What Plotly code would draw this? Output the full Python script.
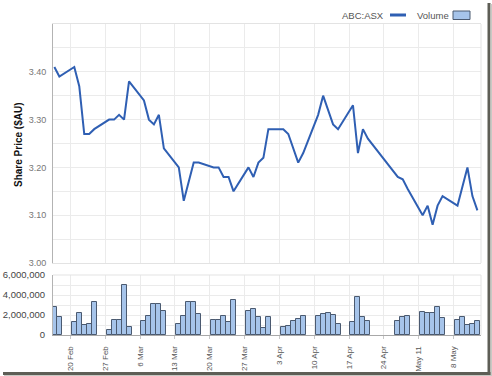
import plotly.graph_objects as go

# ---------------- data ----------------
dates = [
    "2006-02-16", "2006-02-17",
    "2006-02-20", "2006-02-21", "2006-02-22", "2006-02-23", "2006-02-24",
    "2006-02-27", "2006-02-28", "2006-03-01", "2006-03-02", "2006-03-03",
    "2006-03-06", "2006-03-07", "2006-03-08", "2006-03-09", "2006-03-10",
    "2006-03-13", "2006-03-14", "2006-03-15", "2006-03-16", "2006-03-17",
    "2006-03-20", "2006-03-21", "2006-03-22", "2006-03-23", "2006-03-24",
    "2006-03-27", "2006-03-28", "2006-03-29", "2006-03-30", "2006-03-31",
    "2006-04-03", "2006-04-04", "2006-04-05", "2006-04-06", "2006-04-07",
    "2006-04-10", "2006-04-11", "2006-04-12", "2006-04-13", "2006-04-14",
    "2006-04-17", "2006-04-18", "2006-04-19", "2006-04-20",
    "2006-04-26", "2006-04-27", "2006-04-28",
    "2006-05-01", "2006-05-02", "2006-05-03", "2006-05-04", "2006-05-05",
    "2006-05-08", "2006-05-09", "2006-05-10", "2006-05-11", "2006-05-12",
]

prices = [
    3.41, 3.39,
    3.41, 3.37, 3.27, 3.27, 3.28,
    3.30, 3.30, 3.31, 3.30, 3.38,
    3.34, 3.30, 3.29, 3.31, 3.24,
    3.20, 3.13, 3.17, 3.21, 3.21,
    3.20, 3.20, 3.18, 3.18, 3.15,
    3.20, 3.18, 3.21, 3.22, 3.28,
    3.28, 3.27, 3.24, 3.21, 3.23,
    3.31, 3.35, 3.32, 3.29, 3.28,
    3.33, 3.23, 3.28, 3.26,
    3.18, 3.175, 3.155,
    3.10, 3.12, 3.08, 3.12, 3.14,
    3.12, 3.16, 3.20, 3.14, 3.11,
]

volumes = [
    2830000, 1830000,
    1330000, 2230000, 1000000, 1130000, 3300000,
    530000, 1500000, 1500000, 5000000, 800000,
    1430000, 1930000, 3070000, 3070000, 2400000,
    1150000, 1950000, 3300000, 3300000, 2070000,
    1500000, 1500000, 1930000, 1270000, 3470000,
    2400000, 2600000, 1770000, 700000, 1770000,
    800000, 900000, 1430000, 1630000, 1870000,
    1870000, 2070000, 2230000, 1970000, 1070000,
    1270000, 3800000, 1830000, 1430000,
    1430000, 1770000, 1870000,
    2330000, 2230000, 2230000, 2830000, 1670000,
    1500000, 1770000, 970000, 1130000, 1430000,
]

week_ticks = ["2006-02-20", "2006-02-27", "2006-03-06", "2006-03-13", "2006-03-20",
              "2006-03-27", "2006-04-03", "2006-04-10", "2006-04-17", "2006-04-24",
              "2006-05-01", "2006-05-08"]
week_labels = ["20 Feb", "27 Feb", "6 Mar", "13 Mar", "20 Mar", "27 Mar",
               "3 Apr", "10 Apr", "17 Apr", "24 Apr", "May 11", "8 May"]

price_ticks = [3.00, 3.05, 3.10, 3.15, 3.20, 3.25, 3.30, 3.35, 3.40, 3.45, 3.50]
price_labels = ["3.00", "", "3.10", "", "3.20", "", "3.30", "", "3.40", "", ""]
vol_ticks = [0, 1000000, 2000000, 3000000, 4000000, 5000000, 6000000]
vol_labels = ["0", "", "2,000,000", "", "4,000,000", "", "6,000,000"]

series_names = ["ABC:ASX", "Volume"]
y_title = "Share Price ($AU)"

# ---------------- styling ----------------
LINE_BLUE = "#2f5fb3"
BAR_FILL = "#a6c4ea"
BAR_EDGE = "#4b5a70"
GRID = "#ebebeb"
FONT = "Liberation Sans, Arial, sans-serif"

W, H = 492, 376
L, R, T, B = 53, 11, 24, 41
PW, PH = W - L - R, H - T - B


def px_x(px):
    return (px - L) / PW


def px_y(py):
    return (H - B - py) / PH


# stamp trading days in the evening so bars sit between weekly gridlines
xdates = [d + " 19:00" for d in dates]
x_range = ["2006-02-16 12:23", "2006-05-13 12:23"]

fig = go.Figure()

fig.add_trace(go.Scatter(
    x=xdates, y=prices, mode="lines", name=series_names[0],
    line=dict(color=LINE_BLUE, width=2), xaxis="x", yaxis="y",
    showlegend=False,
))

fig.add_trace(go.Bar(
    x=xdates, y=volumes, name=series_names[1], width=86400000,
    marker=dict(color=BAR_FILL, line=dict(color=BAR_EDGE, width=1)),
    xaxis="x2", yaxis="y2", showlegend=False,
))

price_top = px_y(24)
price_bot = px_y(263)
vol_top = px_y(275)

fig.update_layout(
    width=W, height=H,
    margin=dict(l=L, r=R, t=T, b=B, autoexpand=False),
    paper_bgcolor="white", plot_bgcolor="white",
    font=dict(family=FONT, color="#555"),
    bargap=0,
    xaxis=dict(
        type="date", range=x_range, domain=[0, 1], anchor="y", automargin=False,
        tickvals=week_ticks, ticktext=week_labels, showticklabels=False,
        showgrid=True, gridcolor=GRID, gridwidth=1, ticks="",
        showline=True, linecolor="#e3e3e3", linewidth=1, mirror=True,
        zeroline=False,
    ),
    yaxis=dict(
        domain=[price_bot, price_top], range=[3.0, 3.5], anchor="x", automargin=False,
        tickvals=price_ticks, ticktext=price_labels,
        tickfont=dict(size=9, color="#777"), ticklabelstandoff=4,
        showgrid=True, gridcolor=GRID, gridwidth=1,
        showline=True, linecolor="#b3b3b3", linewidth=1,
        ticks="", zeroline=False,
    ),
    xaxis2=dict(
        type="date", range=x_range, domain=[0, 1], anchor="y2", matches="x",
        automargin=False,
        tickvals=week_ticks, ticktext=week_labels, tickangle=-90,
        tickfont=dict(size=8, color="#555"), ticklabelstandoff=4,
        showgrid=True, gridcolor=GRID, gridwidth=1,
        ticks="outside", ticklen=3, tickcolor="#c8c8c8",
        showline=True, linecolor="#a8a8a8", linewidth=1,
        zeroline=False,
    ),
    yaxis2=dict(
        domain=[0, vol_top], range=[0, 6000000], anchor="x2", automargin=False,
        tickvals=vol_ticks, ticktext=vol_labels,
        tickfont=dict(size=9.5, color="#444"), ticklabelstandoff=5,
        showgrid=True, gridcolor=GRID, gridwidth=1,
        showline=True, linecolor="#b3b3b3", linewidth=1,
        ticks="", zeroline=False,
    ),
)

shapes = []
# right borders of both panels
shapes.append(dict(type="line", xref="x domain", yref="y domain", x0=1, x1=1, y0=0, y1=1,
                   line=dict(color="#e3e3e3", width=1)))
shapes.append(dict(type="line", xref="x2 domain", yref="y2 domain", x0=1, x1=1, y0=0, y1=1,
                   line=dict(color="#e3e3e3", width=1)))
shapes.append(dict(type="line", xref="x2 domain", yref="y2 domain", x0=0, x1=1, y0=1, y1=1,
                   line=dict(color="#e3e3e3", width=1)))

# legend symbols (library legend cannot put symbol after text)
shapes.append(dict(type="line", xref="paper", yref="paper",
                   x0=px_x(390), x1=px_x(406), y0=px_y(15), y1=px_y(15),
                   line=dict(color=LINE_BLUE, width=3)))
shapes.append(dict(type="rect", xref="paper", yref="paper",
                   x0=px_x(453), x1=px_x(470), y0=px_y(19.5), y1=px_y(11),
                   fillcolor=BAR_FILL, line=dict(color=BAR_EDGE, width=1)))

# image frame shadow (right and bottom)
shapes.append(dict(type="rect", xref="paper", yref="paper", layer="above",
                   x0=px_x(487.5), x1=px_x(490.5), y0=px_y(375), y1=px_y(3),
                   fillcolor="#5e5e56", line=dict(width=0)))
shapes.append(dict(type="rect", xref="paper", yref="paper", layer="above",
                   x0=px_x(490.5), x1=px_x(492), y0=px_y(376), y1=px_y(4),
                   fillcolor="#c9c9c4", line=dict(width=0)))
shapes.append(dict(type="rect", xref="paper", yref="paper", layer="above",
                   x0=px_x(3), x1=px_x(490.5), y0=px_y(375), y1=px_y(372),
                   fillcolor="#5e5e56", line=dict(width=0)))
shapes.append(dict(type="rect", xref="paper", yref="paper", layer="above",
                   x0=px_x(4), x1=px_x(492), y0=px_y(376), y1=px_y(375),
                   fillcolor="#c9c9c4", line=dict(width=0)))

fig.update_layout(shapes=shapes)

annotations = [
    dict(text=series_names[0], xref="paper", yref="paper", x=px_x(386), y=px_y(15),
         xanchor="right", yanchor="middle", showarrow=False,
         font=dict(size=9.5, color="#555", family=FONT)),
    dict(text=series_names[1], xref="paper", yref="paper", x=px_x(451), y=px_y(15),
         xanchor="right", yanchor="middle", showarrow=False,
         font=dict(size=9.5, color="#555", family=FONT)),
    dict(text="<b>" + y_title + "</b>", xref="paper", yref="paper",
         x=px_x(18), y=px_y(145), xanchor="center", yanchor="middle",
         textangle=-90, showarrow=False,
         font=dict(size=10, color="#111", family=FONT)),
]
fig.update_layout(annotations=annotations)

fig.write_html(
    "out.html",
    config={"displayModeBar": False},
    post_script="document.body.style.margin='0';document.body.style.padding='0';",
)
